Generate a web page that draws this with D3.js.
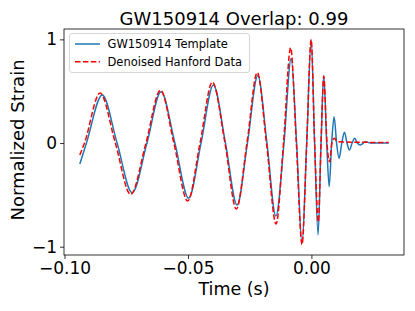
<!DOCTYPE html>
<html><head><meta charset="utf-8">
<script src="https://cdn.jsdelivr.net/npm/d3@7"></script>
<style>html,body{margin:0;padding:0;background:#fff;}svg{display:block;}</style>
</head><body>
<script>
const templateTime = [-0.0938,-0.0911,-0.0847,-0.0787,-0.0726,-0.0666,-0.0609,-0.0553,-0.0497,-0.0447,-0.0397,-0.0348,-0.0301,-0.0259,-0.0217,-0.0180,-0.0144,-0.0111,-0.0082,-0.0060,-0.0038,-0.0019,-0.0001,0.0013,0.0027,0.0039,0.0050,0.0062,0.0072,0.0082,0.0092,0.0102,0.0112,0.0123,0.0134,0.0144,0.0154,0.0165,0.0175,0.0186,0.0198,0.0219,0.0239,0.0313];
const templateStrain = [-0.203,0,0.463,0,-0.479,0,0.495,0,-0.533,0,0.559,0,-0.598,0,0.651,0,-0.704,0,0.815,0,-0.967,0,0.994,0,-0.887,0,0.649,0,-0.421,0,0.253,0,-0.148,0,0.104,0,-0.068,0,0.045,0,-0.019,0.012,0,0];
const dataTime = [-0.0938,-0.0919,-0.0856,-0.0794,-0.0732,-0.0670,-0.0611,-0.0557,-0.0501,-0.0451,-0.0401,-0.0350,-0.0304,-0.0261,-0.0219,-0.0182,-0.0143,-0.0113,-0.0084,-0.0061,-0.0038,-0.0019,-0.0001,0.0013,0.0028,0.0039,0.0050,0.0063,0.0074,0.0083,0.0093,0.0105,0.0138,0.0313];
const dataStrain = [-0.116,0,0.482,0,-0.497,0,0.511,0,-0.559,0,0.588,0,-0.637,0,0.680,0,-0.781,0,0.919,0,-0.979,0,0.999,0,-0.762,0,0.646,0,-0.180,0,0.045,0.013,0.010,0.005];
const xTicks = [-0.10,-0.05,0.00];
const yTicks = [-1,0,1];
const titleText = "GW150914 Overlap: 0.99";
const seriesNames = ["GW150914 Template","Denoised Hanford Data"];

const W=415,H=311;
const m={left:64,right:11,top:29,bottom:56};
const svg=d3.select("body").append("svg").attr("width",W).attr("height",H)
  .style("font-family","'DejaVu Sans', sans-serif");
const x=d3.scaleLinear().domain([-0.1002,0.0375]).range([m.left,W-m.right]);
const y=d3.scaleLinear().domain([-1.08,1.10]).range([H-m.bottom,m.top]);

const line=d3.line().x(d=>x(d[0])).y(d=>y(d[1])).curve(d3.curveMonotoneX);
const tpl=templateTime.map((t,i)=>[t,templateStrain[i]]);
const dat=dataTime.map((t,i)=>[t,dataStrain[i]]);

svg.append("path").attr("d",line(tpl)).attr("fill","none").attr("stroke","#1f77b4").attr("stroke-width",1.5);
svg.append("path").attr("d",line(dat)).attr("fill","none").attr("stroke","#ff0000").attr("stroke-width",1.5).attr("stroke-dasharray","5.5,2.4");

const fmt=d=>(d<0?"\u2212":"")+Math.abs(d).toFixed(2);
const xa=svg.append("g").attr("transform",`translate(0,${H-m.bottom})`)
  .call(d3.axisBottom(x).tickValues(xTicks).tickFormat(fmt).tickSizeOuter(0).tickSize(4).tickPadding(3));
const ya=svg.append("g").attr("transform",`translate(${m.left},0)`)
  .call(d3.axisLeft(y).tickValues(yTicks).tickFormat(d=>d<0?"\u2212"+Math.abs(d):String(d)).tickSizeOuter(0).tickSize(4).tickPadding(3));
[xa,ya].forEach(a=>{a.select(".domain").remove();a.selectAll("text").attr("font-size",17).attr("font-family","'DejaVu Sans', sans-serif").attr("fill","#000");a.selectAll("line").attr("stroke","#000").attr("stroke-width",0.8);});

svg.append("rect").attr("x",m.left).attr("y",m.top).attr("width",W-m.left-m.right).attr("height",H-m.top-m.bottom)
  .attr("fill","none").attr("stroke","#000").attr("stroke-width",0.8);

svg.append("text").attr("x",(m.left+W-m.right)/2).attr("y",25).attr("text-anchor","middle").attr("font-size",18).text(titleText);
svg.append("text").attr("x",(m.left+W-m.right)/2).attr("y",295).attr("text-anchor","middle").attr("font-size",17.5).text("Time (s)");
svg.append("text").attr("transform",`translate(24,140) rotate(-90)`).attr("text-anchor","middle").attr("font-size",18).text("Normalized Strain");

const lg=svg.append("g");
lg.append("rect").attr("x",69.5).attr("y",33.5).attr("width",180).attr("height",39).attr("rx",2.5)
  .attr("fill","#fff").attr("fill-opacity",0.8).attr("stroke","#ccc").attr("stroke-width",0.8);
const rows=[{c:"#1f77b4",d:null,y:44},{c:"#ff0000",d:"5.5,2.4",y:61.7}];
rows.forEach((r,i)=>{
  lg.append("line").attr("x1",75).attr("x2",100).attr("y1",r.y).attr("y2",r.y).attr("stroke",r.c).attr("stroke-width",1.5).attr("stroke-dasharray",r.d);
  lg.append("text").attr("x",107.5).attr("y",r.y+4).attr("font-size",11.5).text(seriesNames[i]);
});
</script>
</body></html>
